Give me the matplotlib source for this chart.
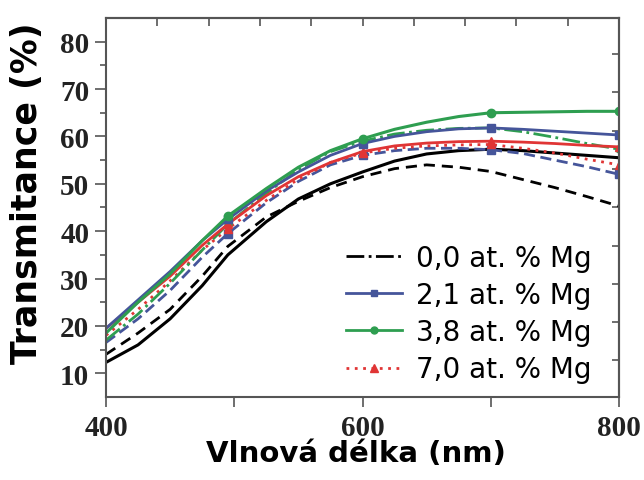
import numpy as np
import matplotlib.pyplot as plt
from matplotlib.lines import Line2D

# wavelength grid (nm)
wl = [400, 425, 450, 475, 495, 525, 550, 575, 600, 625, 650, 675, 700, 725, 750, 775, 800]

# 0,0 at. % Mg
mg00_a = [12.3, 16.0, 21.5, 28.5, 35.0, 42.0, 46.8, 50.0, 52.5, 54.8, 56.3, 57.0, 57.3, 57.0, 56.5, 56.0, 55.5]
mg00_b = [14.0, 18.5, 23.5, 30.5, 36.8, 43.0, 46.3, 49.2, 51.5, 53.2, 54.0, 53.5, 52.6, 50.9, 49.2, 47.3, 45.3]
# 2,1 at. % Mg
mg21_a = [19.5, 25.5, 31.5, 38.0, 42.5, 48.5, 52.5, 56.0, 58.5, 60.0, 61.0, 61.6, 61.8, 61.5, 61.1, 60.7, 60.3]
mg21_b = [16.5, 21.5, 27.5, 34.5, 39.5, 46.0, 50.5, 54.0, 56.0, 57.0, 57.5, 57.5, 57.2, 56.4, 55.0, 53.6, 52.0]
# 3,8 at. % Mg
mg38_a = [18.5, 25.0, 31.0, 38.0, 43.2, 49.0, 53.5, 57.0, 59.5, 61.5, 63.0, 64.2, 65.0, 65.1, 65.2, 65.3, 65.3]
mg38_b = [17.0, 22.5, 29.0, 36.0, 41.5, 48.0, 53.0, 56.8, 59.0, 60.5, 61.3, 61.7, 61.8, 61.0, 59.8, 58.5, 57.3]
# 7,0 at. % Mg
mg70_a = [19.5, 25.0, 30.5, 37.0, 41.5, 47.5, 51.5, 54.5, 56.8, 58.0, 58.6, 58.9, 59.0, 58.8, 58.5, 58.1, 57.8]
mg70_b = [18.0, 23.5, 29.5, 36.0, 40.5, 46.5, 51.0, 54.5, 56.5, 57.5, 58.0, 58.2, 58.3, 57.5, 56.5, 55.2, 54.0]

labels = ['0,0 at. % Mg', '2,1 at. % Mg', '3,8 at. % Mg', '7,0 at. % Mg']

blue = '#45559a'
green = '#2e9e50'
red = '#e03535'
marks = [4, 8, 12, 16]

fig = plt.figure(figsize=(6.44, 4.81), dpi=100)
ax = fig.add_axes([0.1646, 0.1726, 0.7966, 0.7879])

ax.plot(wl, mg00_b, color='k', lw=2, ls=(0, (4, 2.5)))
ax.plot(wl, mg00_a, color='k', lw=2.2)
ax.plot(wl, mg21_b, color=blue, lw=2, ls=(0, (4, 2)), marker='s', ms=6, markevery=marks)
ax.plot(wl, mg70_b, color=red, lw=2, ls=(0, (1, 2)), marker='^', ms=6, markevery=marks)
ax.plot(wl, mg38_b, color=green, lw=2, ls='-.', marker='o', ms=5, markevery=marks)
ax.plot(wl, mg70_a, color=red, lw=2, marker='^', ms=6, markevery=marks)
ax.plot(wl, mg21_a, color=blue, lw=2, marker='s', ms=6, markevery=marks)
ax.plot(wl, mg38_a, color=green, lw=2.2, marker='o', ms=6, markevery=marks)

ax.set_xlim(400, 800)
ax.set_ylim(5, 85)
ax.set_xticks([400, 500, 600, 700, 800])
ax.set_xticklabels(['400', '', '600', '', '800'])
ax.set_yticks(range(10, 81, 10))
ax.set_yticks(range(15, 81, 10), minor=True)

tickfont = dict(family='Liberation Serif', weight='bold', size=21)
for lab in ax.get_xticklabels() + ax.get_yticklabels():
    lab.set_fontproperties(tickfont)
    lab.set_color('#222222')

ax.tick_params(axis='y', which='major', direction='out', length=8, width=1.2, pad=4, color='#555555')
ax.tick_params(axis='y', which='minor', direction='out', length=4, width=1.2, color='#555555')
ax.tick_params(axis='x', which='major', direction='out', length=7, width=1.2, pad=5, color='#555555')

# secondary axes with unlabeled inward ticks
top = ax.secondary_xaxis('top')
top.set_xticks(np.arange(440, 790, 40))
top.set_xticklabels([])
top.tick_params(direction='in', length=6, width=1.2, color='#555555')
right = ax.secondary_yaxis('right')
right.set_yticks(77.36 - 8.08 * np.arange(9))
right.set_yticklabels([])
right.tick_params(direction='in', length=5, width=1.2, color='#555555')

for s in list(ax.spines.values()) + list(top.spines.values()) + list(right.spines.values()):
    s.set_color('#555555')
    s.set_linewidth(1.5)

ax.set_xlabel('Vlnová délka (nm)', family='DejaVu Sans', weight='bold', size=21)
ax.xaxis.set_label_coords(0.487, -0.11)
ax.set_ylabel('Transmitance (%)', family='DejaVu Sans', weight='bold', size=25)
ax.yaxis.set_label_coords(-0.12, 0.54)

handles = [
    Line2D([], [], color='k', lw=2, ls='-.'),
    Line2D([], [], color=blue, lw=2, ls='-', marker='s', ms=5),
    Line2D([], [], color=green, lw=2, ls='-', marker='o', ms=5),
    Line2D([], [], color=red, lw=2, ls=(0, (1, 2)), marker='^', ms=6),
]
ax.legend(handles, labels, loc='lower right', bbox_to_anchor=(0.995, -0.03), frameon=False,
          prop=dict(family='DejaVu Sans', size=20), handlelength=2.0, handletextpad=0.5,
          labelspacing=0.33)

fig.savefig('out.png', dpi=100)
